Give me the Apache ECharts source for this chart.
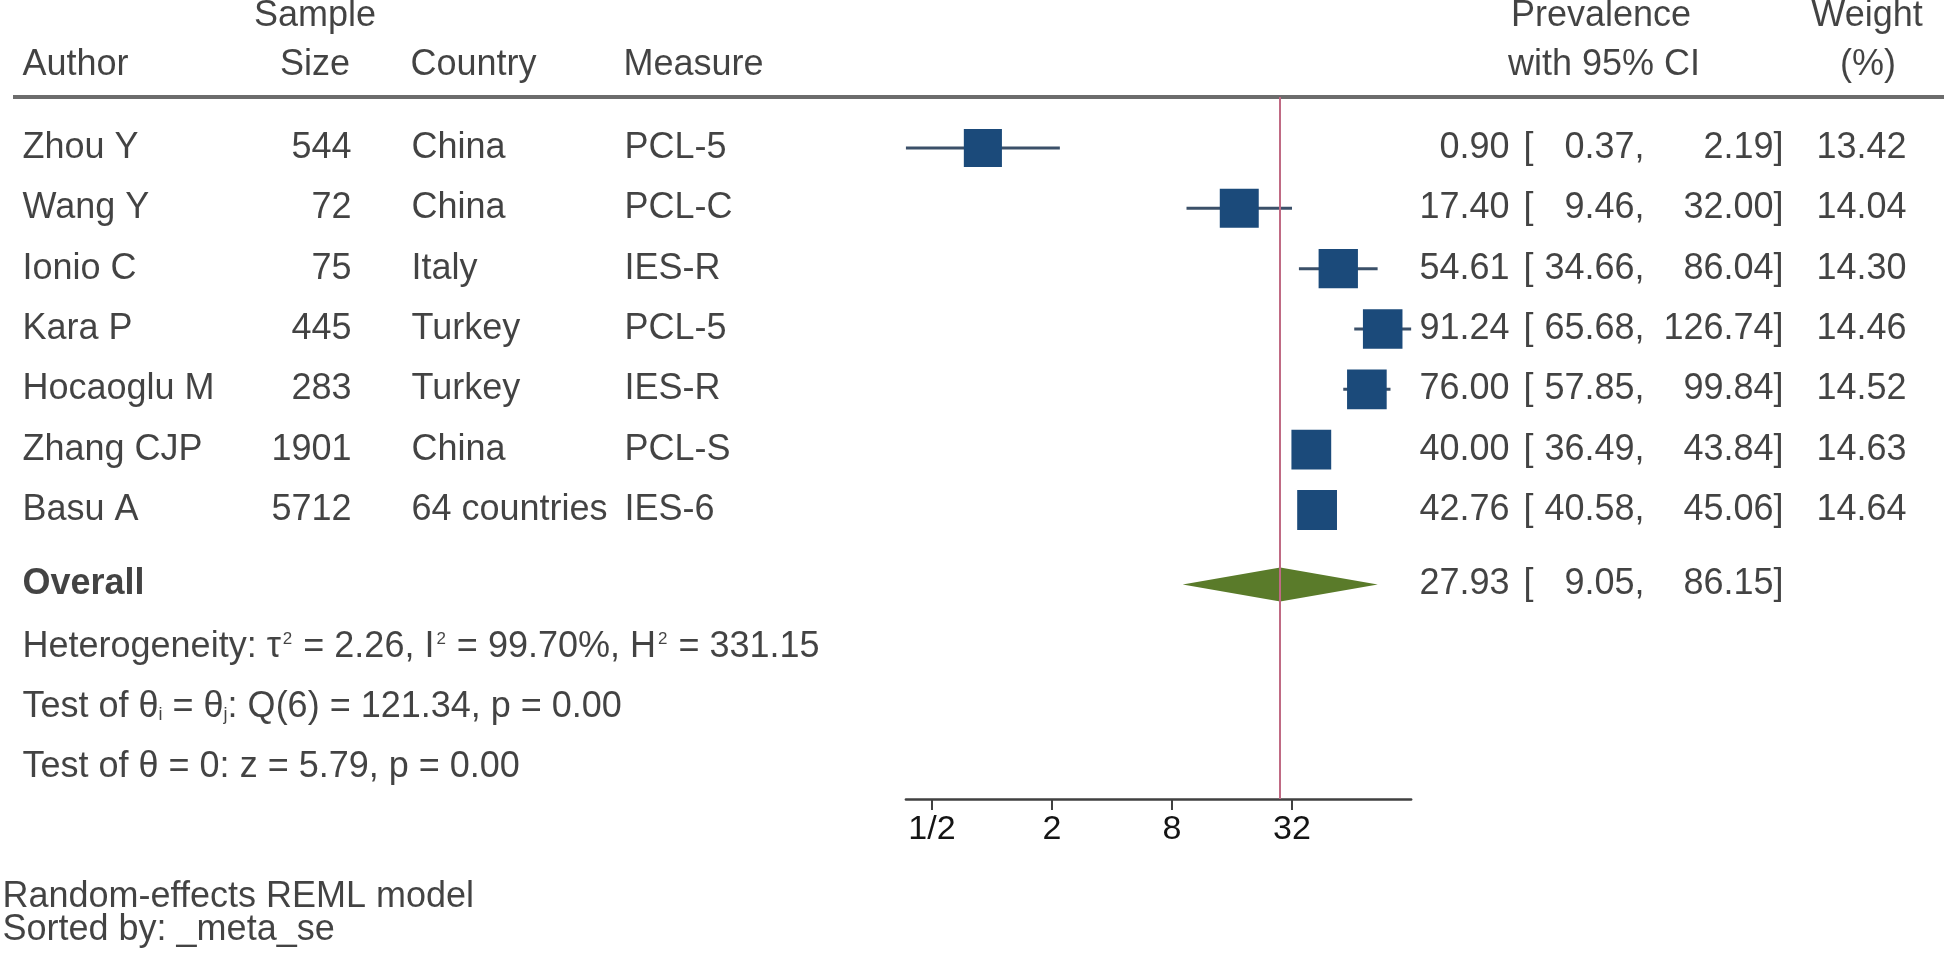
<!DOCTYPE html>
<html><head><meta charset="utf-8">
<script src="https://cdn.jsdelivr.net/npm/echarts@6/dist/echarts.min.js"></script>
<style>html,body{margin:0;padding:0;background:#fff}#chart{width:1944px;height:957px}</style>
</head><body><div id="chart"></div>
<script>
// ---- data ----
const authors = ['Zhou Y', 'Wang Y', 'Ionio C', 'Kara P', 'Hocaoglu M', 'Zhang CJP', 'Basu A'];
const sampleSizes = [544, 72, 75, 445, 283, 1901, 5712];
const countries = ['China', 'China', 'Italy', 'Turkey', 'Turkey', 'China', '64 countries'];
const measures = ['PCL-5', 'PCL-C', 'IES-R', 'PCL-5', 'IES-R', 'PCL-S', 'IES-6'];
const prevalence = [0.90, 17.40, 54.61, 91.24, 76.00, 40.00, 42.76];
const ciLower = [0.37, 9.46, 34.66, 65.68, 57.85, 36.49, 40.58];
const ciUpper = [2.19, 32.00, 86.04, 126.74, 99.84, 43.84, 45.06];
const weights = [13.42, 14.04, 14.30, 14.46, 14.52, 14.63, 14.64];
const overallEstimate = 27.93;
const overallLower = 9.05;
const overallUpper = 86.15;
const tickValues = [0.5, 2, 8, 32];
const tickLabels = ['1/2', '2', '8', '32'];
const headerLine1 = ['Sample', 'Prevalence', 'Weight'];
const headerLine2 = ['Author', 'Size', 'Country', 'Measure', 'with 95% CI', '(%)'];
const statsLines = [
  '{a|Heterogeneity: τ}{s|2}{a| = 2.26, I}{s|2}{a| = 99.70%, H}{s|2}{a| = 331.15}',
  '{a|Test of θ}{b|i}{a| = θ}{b|j}{a|: Q(6) = 121.34, p = 0.00}',
  '{a|Test of θ = 0: z = 5.79, p = 0.00}'
];
const notes = ['Random-effects REML model', 'Sorted by: _meta_se'];

// ---- layout / style ----
const W = 1944, H = 957;
const FONT = '"Liberation Sans", Arial, Helvetica, sans-serif';
const TXT = '#141414';
const FS = 36;
const ROW0 = 148, ROWH = 60.333;
const rowOf = px => (px - ROW0) / ROWH;
const PLOT_TOP = 97, AXIS_Y = 799;
const X0 = 992, XU = 60; // px at log2(v)=0 and px per log2 unit
const l2 = Math.log2;
const xMin = l2(Math.min(...ciLower)), xMax = l2(Math.max(...ciUpper));
const gridLeft = X0 + XU * xMin, gridRight = W - (X0 + XU * xMax);
const overallRow = rowOf(584.5);
const NAVY = '#1b4a7a', CI_COLOR = '#3b5069', GREEN = '#5a7b2a', REF = '#c06a84';
const SQ_K = 10.4;

function fmt(v) { return v.toFixed(2); }

function textSeries(items, pos, extraLabel) {
  return {
    type: 'scatter', xAxisIndex: 1, yAxisIndex: 1, silent: true, z: 10,
    symbolSize: 1, itemStyle: { color: 'rgba(0,0,0,0)' },
    data: items.map(it => ({ name: it.text, value: [it.x, it.row] })),
    label: Object.assign({
      show: true, position: pos, distance: 0, formatter: p => p.name,
      fontFamily: FONT, fontSize: FS, color: TXT, lineHeight: FS
    }, extraLabel || {})
  };
}

const leftItems = [], rightItems = [], centerItems = [];
// header
leftItems.push({ x: 22, row: rowOf(65), text: headerLine2[0] });
centerItems.push({ x: 315, row: rowOf(16), text: headerLine1[0] });
centerItems.push({ x: 315, row: rowOf(65), text: headerLine2[1] });
leftItems.push({ x: 410, row: rowOf(65), text: headerLine2[2] });
leftItems.push({ x: 623, row: rowOf(65), text: headerLine2[3] });
centerItems.push({ x: 1601, row: rowOf(16), text: headerLine1[1] });
centerItems.push({ x: 1604, row: rowOf(65), text: headerLine2[4] });
centerItems.push({ x: 1867, row: rowOf(16), text: headerLine1[2] });
centerItems.push({ x: 1868, row: rowOf(65), text: headerLine2[5] });
// study rows
authors.forEach((a, i) => {
  leftItems.push({ x: 22, row: i, text: a });
  rightItems.push({ x: 352, row: i, text: String(sampleSizes[i]) });
  leftItems.push({ x: 411, row: i, text: countries[i] });
  leftItems.push({ x: 624, row: i, text: measures[i] });
  rightItems.push({ x: 1510, row: i, text: fmt(prevalence[i]) });
  leftItems.push({ x: 1523, row: i, text: '[' });
  rightItems.push({ x: 1645, row: i, text: fmt(ciLower[i]) + ',' });
  rightItems.push({ x: 1784, row: i, text: fmt(ciUpper[i]) + ']' });
  rightItems.push({ x: 1907, row: i, text: fmt(weights[i]) });
});
// overall row values
rightItems.push({ x: 1510, row: overallRow, text: fmt(overallEstimate) });
leftItems.push({ x: 1523, row: overallRow, text: '[' });
rightItems.push({ x: 1645, row: overallRow, text: fmt(overallLower) + ',' });
rightItems.push({ x: 1784, row: overallRow, text: fmt(overallUpper) + ']' });

const statsItems = statsLines.map((t, k) => ({ x: 22, row: rowOf(647 + 60 * k), text: t }));
const noteItems = notes.map((t, k) => ({ x: 2, row: rowOf(897 + 33 * k), text: t }));

const series = [
  // CI whiskers + reference line
  {
    type: 'custom', xAxisIndex: 0, yAxisIndex: 0, silent: true, z: 2, clip: false,
    data: prevalence.map((_, i) => [l2(ciLower[i]), l2(ciUpper[i]), i]),
    encode: { x: [0, 1], y: 2 },
    renderItem: (params, api) => {
      const a = api.coord([api.value(0), api.value(2)]);
      const b = api.coord([api.value(1), api.value(2)]);
      return { type: 'line', shape: { x1: a[0], y1: a[1], x2: b[0], y2: b[1] },
               style: { stroke: CI_COLOR, lineWidth: 3 } };
    },
    markLine: {
      silent: true, symbol: 'none', animation: false,
      label: { show: false },
      lineStyle: { color: REF, width: 2, type: 'solid' },
      data: [{ xAxis: l2(overallEstimate) }]
    }
  },
  // squares
  {
    type: 'scatter', xAxisIndex: 0, yAxisIndex: 0, silent: true, z: 4,
    symbol: 'rect',
    data: prevalence.map((v, i) => [l2(v), i, weights[i]]),
    symbolSize: d => SQ_K * Math.sqrt(d[2]),
    itemStyle: { color: NAVY, opacity: 1 }
  },
  // overall diamond
  {
    type: 'custom', xAxisIndex: 0, yAxisIndex: 0, silent: true, z: 3, clip: false,
    data: [[l2(overallLower), l2(overallEstimate), l2(overallUpper), overallRow]],
    encode: { x: [0, 1, 2], y: 3 },
    renderItem: (params, api) => {
      const y = api.value(3);
      const pl = api.coord([api.value(0), y]);
      const pc = api.coord([api.value(1), y]);
      const pr = api.coord([api.value(2), y]);
      const h = 17;
      return { type: 'polygon', shape: { points: [pl, [pc[0], pc[1] - h], pr, [pc[0], pc[1] + h]] },
               style: { fill: GREEN } };
    }
  },
  // header rule
  {
    type: 'line', xAxisIndex: 1, yAxisIndex: 1, silent: true, z: 1,
    showSymbol: false, symbol: 'none',
    data: [[13, rowOf(PLOT_TOP)], [W, rowOf(PLOT_TOP)]],
    lineStyle: { color: '#6c6c6c', width: 4 }
  },
  textSeries(leftItems, 'right'),
  textSeries(rightItems, 'left'),
  textSeries(centerItems, 'inside'),
  textSeries([{ x: 22, row: overallRow, text: 'Overall' }], 'right', { fontWeight: 'bold' }),
  textSeries(statsItems, 'right', {
    rich: {
      a: { fontFamily: FONT, fontSize: FS, color: TXT, lineHeight: 38 },
      s: { fontFamily: FONT, fontSize: 17, color: TXT, lineHeight: 38, verticalAlign: 'top', padding: [3, 1, 0, 2] },
      b: { fontFamily: FONT, fontSize: 18, color: TXT, lineHeight: 38, verticalAlign: 'bottom', padding: [0, 0, 2, 0] }
    }
  }),
  textSeries(noteItems, 'right')
];

const chart = echarts.init(document.getElementById('chart'), null, { renderer: 'canvas' });
chart.setOption({
  backgroundColor: '#ffffff',
  animation: false,
  grid: [
    { left: gridLeft, right: gridRight, top: PLOT_TOP, bottom: H - AXIS_Y, containLabel: false },
    { left: 0, right: 0, top: 0, bottom: 0, containLabel: false }
  ],
  xAxis: [
    {
      gridIndex: 0, type: 'value', min: xMin, max: xMax, position: 'bottom',
      splitLine: { show: false },
      axisLine: { show: true, onZero: false, lineStyle: { color: '#404040', width: 2.5 } },
      axisTick: { show: true, customValues: tickValues.map(l2), length: 11, lineStyle: { color: '#404040', width: 2 } },
      axisLabel: {
        show: true, customValues: tickValues.map(l2), margin: 14,
        fontFamily: FONT, fontSize: 34, lineHeight: 34, color: TXT,
        formatter: v => {
          const k = tickValues.findIndex(t => Math.abs(l2(t) - v) < 1e-6);
          return k >= 0 ? tickLabels[k] : '';
        }
      }
    },
    { gridIndex: 1, type: 'value', min: 0, max: W, show: false }
  ],
  yAxis: [
    { gridIndex: 0, type: 'value', inverse: true, min: rowOf(PLOT_TOP), max: rowOf(AXIS_Y), show: false },
    { gridIndex: 1, type: 'value', inverse: true, min: rowOf(0), max: rowOf(H), show: false }
  ],
  series: series
});
</script>
</body></html>
